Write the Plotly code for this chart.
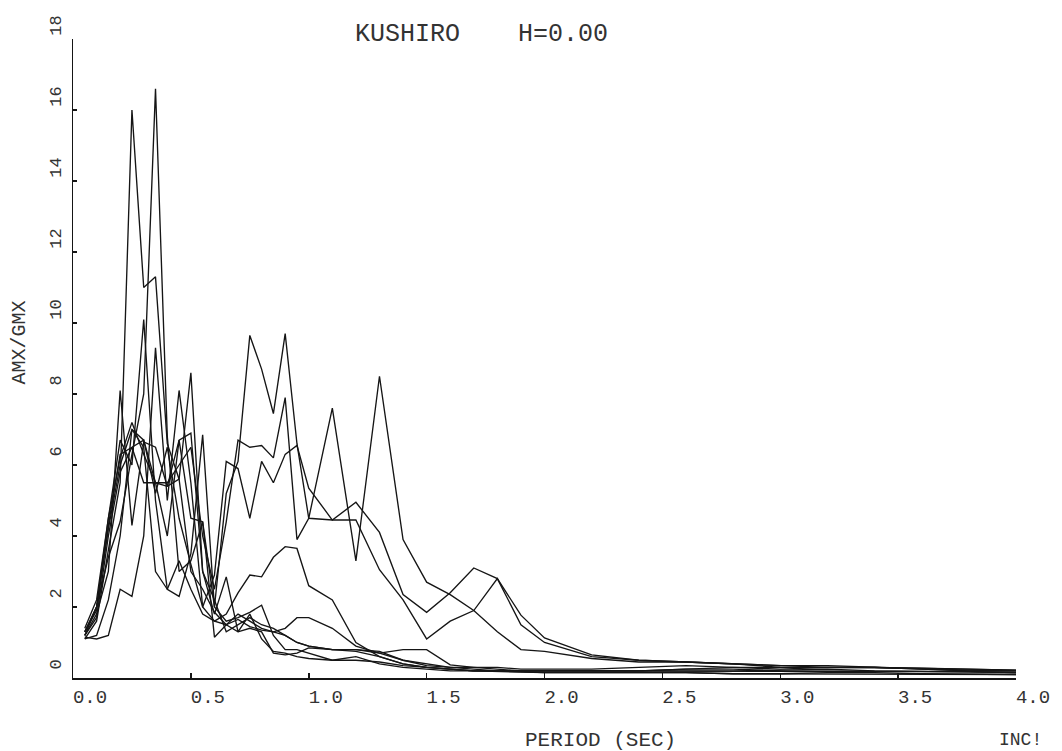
import plotly.graph_objects as go

# Periods (sec): 0.05..1.0 step 0.05, 1.1..2.0 step 0.1, 2.2..4.0 step 0.2
period = [round(0.05 * i, 2) for i in range(1, 21)] + \
         [round(1.0 + 0.1 * i, 2) for i in range(1, 11)] + \
         [round(2.0 + 0.2 * i, 2) for i in range(1, 11)]

c1 = [1.1, 1.6, 3.6, 5.5, 16.0, 11.0, 11.3, 6.6, 5.6, 3.0, 2.5, 1.85, 1.5, 1.3, 1.4, 1.3, 0.7, 0.65, 0.7, 0.85,
      0.8, 0.8, 0.75, 0.5, 0.35, 0.3, 0.25, 0.2, 0.2, 0.2,
      0.2, 0.18, 0.2, 0.2, 0.22, 0.25, 0.2, 0.18, 0.15, 0.15]
c2 = [1.2, 2.0, 3.4, 4.4, 6.3, 8.0, 16.6, 6.8, 3.0, 3.3, 4.4, 1.15, 1.5, 1.65, 1.45, 1.35, 1.3, 1.4, 1.7, 1.7,
      1.4, 0.9, 0.7, 0.8, 0.8, 0.37, 0.3, 0.3, 0.25, 0.25,
      0.25, 0.3, 0.35, 0.3, 0.25, 0.3, 0.3, 0.25, 0.2, 0.2]
c3 = [1.3, 2.0, 4.5, 6.7, 6.0, 10.1, 5.0, 2.5, 2.3, 3.5, 6.85, 2.0, 1.6, 1.7, 1.85, 2.05, 1.2, 0.8, 0.8, 0.7,
      0.5, 0.6, 0.4, 0.3, 0.25, 0.2, 0.2, 0.18, 0.15, 0.15,
      0.15, 0.15, 0.15, 0.12, 0.12, 0.12, 0.12, 0.1, 0.1, 0.1]
c4 = [1.2, 1.8, 3.0, 8.1, 4.3, 6.65, 6.5, 5.4, 6.7, 6.9, 3.0, 1.8, 2.85, 1.3, 1.8, 1.1, 0.75, 0.7, 0.6, 0.55,
      0.5, 0.5, 0.45, 0.35, 0.3, 0.25, 0.2, 0.2, 0.2, 0.2,
      0.2, 0.2, 0.2, 0.2, 0.2, 0.2, 0.2, 0.18, 0.18, 0.15]
c5 = [1.15, 1.1, 1.2, 2.5, 2.3, 4.0, 9.3, 5.0, 8.1, 5.5, 2.0, 1.6, 1.5, 1.8, 1.6, 1.4, 1.3, 1.2, 1.0, 0.9,
      0.8, 0.75, 0.6, 0.4, 0.3, 0.25, 0.2, 0.2, 0.2, 0.18,
      0.18, 0.2, 0.25, 0.3, 0.3, 0.3, 0.3, 0.25, 0.2, 0.2]
c6 = [1.2, 1.7, 4.0, 5.8, 6.5, 5.5, 5.5, 5.4, 5.6, 8.6, 3.0, 2.2, 1.3, 1.5, 1.7, 1.5, 1.4, 1.2, 1.0, 0.9,
      0.8, 0.8, 0.7, 0.5, 0.4, 0.3, 0.3, 0.25, 0.2, 0.2,
      0.2, 0.2, 0.25, 0.25, 0.2, 0.2, 0.2, 0.2, 0.18, 0.15]
c7 = [1.3, 2.0, 4.2, 6.0, 7.0, 6.7, 5.5, 4.0, 6.7, 4.5, 4.4, 2.0, 5.2, 6.1, 9.65, 8.7, 7.45, 9.7, 6.6, 4.5,
      4.45, 4.95, 4.1, 2.35, 1.85, 2.4, 3.1, 2.8, 1.77, 1.13,
      0.65, 0.5, 0.45, 0.4, 0.35, 0.35, 0.3, 0.25, 0.22, 0.2]
c8 = [1.4, 2.2, 4.5, 6.2, 7.2, 6.3, 5.5, 5.5, 6.0, 6.5, 4.0, 2.5, 4.4, 6.7, 6.5, 6.55, 6.2, 7.9, 3.9, 4.5,
      7.6, 3.3, 8.5, 3.9, 2.7, 2.35, 1.9, 1.3, 0.8, 0.75,
      0.55, 0.45, 0.45, 0.4, 0.3, 0.3, 0.3, 0.28, 0.25, 0.22]
c9 = [1.3, 1.9, 4.3, 6.3, 6.5, 6.7, 5.2, 6.5, 4.5, 3.2, 2.0, 2.9, 6.1, 5.9, 4.5, 6.1, 5.5, 6.3, 6.55, 5.35,
      4.45, 4.45, 3.05, 2.2, 1.1, 1.6, 1.9, 2.8, 1.5, 1.0,
      0.6, 0.5, 0.45, 0.4, 0.35, 0.3, 0.3, 0.28, 0.25, 0.22]
c10 = [1.1, 1.2, 2.2, 4.0, 7.0, 6.5, 3.0, 2.5, 3.3, 2.5, 1.8, 1.6, 1.8, 2.4, 2.9, 2.85, 3.4, 3.7, 3.65, 2.6,
       2.2, 1.0, 0.6, 0.4, 0.3, 0.25, 0.2, 0.2, 0.18, 0.15,
       0.15, 0.15, 0.15, 0.12, 0.12, 0.15, 0.15, 0.12, 0.1, 0.1]

series = [c1, c2, c3, c4, c5, c6, c7, c8, c9, c10]

x_tickvals = [0.0, 0.5, 1.0, 1.5, 2.0, 2.5, 3.0, 3.5, 4.0]
x_ticktext = ["0.0", "0.5", "1.0", "1.5", "2.0", "2.5", "3.0", "3.5", "4.0"]
y_tickvals = [0, 2, 4, 6, 8, 10, 12, 14, 16, 18]
y_ticktext = ["0", "2", "4", "6", "8", "10", "12", "14", "16", "18"]

INK = "#151515"
TXT = "#333333"
MONO = "Liberation Mono, DejaVu Sans Mono, monospace"

fig = go.Figure()
for s in series:
    fig.add_trace(go.Scatter(x=period, y=s, mode="lines",
                             line=dict(color=INK, width=1.35),
                             showlegend=False, hoverinfo="skip"))

fig.update_layout(
    width=1062, height=751,
    margin=dict(l=73, r=38, t=39, b=73),
    paper_bgcolor="white", plot_bgcolor="white",
    showlegend=False,
)

fig.update_xaxes(
    range=[0, 4], tickvals=x_tickvals, ticktext=x_ticktext,
    showline=True, linecolor=INK, linewidth=2,
    ticks="inside", ticklen=5, tickwidth=1.5, tickcolor=INK,
    showgrid=False, zeroline=False,
    tickfont=dict(family=MONO, size=19, color=TXT),
    ticklabelshift=17,
)
fig.update_yaxes(
    range=[0, 18], tickvals=y_tickvals, ticktext=y_ticktext,
    showline=True, linecolor=INK, linewidth=1.5,
    ticks="inside", ticklen=4, tickwidth=1.5, tickcolor=INK,
    showgrid=False, zeroline=False,
    tickangle=-90,
    tickfont=dict(family=MONO, size=17, color=TXT),
    ticklabelshift=-11, ticklabelstandoff=4,
)

def px_x(px):
    return (px - 73) / 951.0

def px_y(py):
    return (678 - py) / 639.0

ann = [
    dict(text="KUSHIRO", x=px_x(355), y=px_y(35), xanchor="left", yanchor="middle",
         font=dict(family=MONO, size=25, color=TXT)),
    dict(text="H=0.00", x=px_x(520), y=px_y(35), xanchor="left", yanchor="middle",
         font=dict(family=MONO, size=25, color=TXT)),
    dict(text="PERIOD (SEC)", x=px_x(605), y=px_y(740), xanchor="center", yanchor="middle",
         font=dict(family=MONO, size=21, color=TXT)),
    dict(text="INC!", x=px_x(1029), y=px_y(740), xanchor="center", yanchor="middle",
         font=dict(family=MONO, size=18, color=TXT)),
    dict(text="AMX/GMX", x=px_x(19), y=px_y(342), xanchor="center", yanchor="middle",
         textangle=-90, font=dict(family=MONO, size=20, color=TXT)),
]
for a in ann:
    a.update(xref="paper", yref="paper", showarrow=False)
fig.update_layout(annotations=ann)

fig.write_html("out.html",
               config={"displayModeBar": False, "staticPlot": True},
               post_script="document.body.style.margin='0px';document.body.style.overflow='hidden';")
